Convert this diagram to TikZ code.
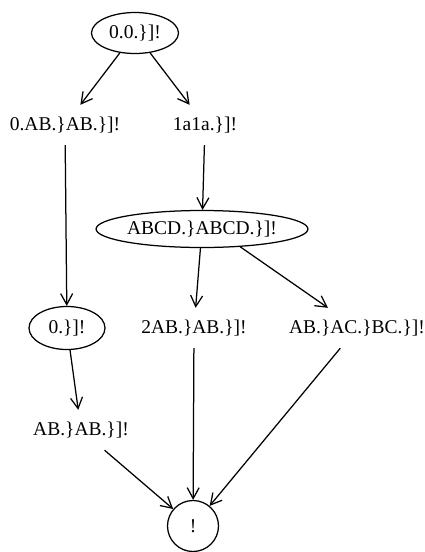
\documentclass[tikz,border=0pt]{standalone}
\usepackage{fontspec}
\setmainfont{Liberation Serif}
\usetikzlibrary{arrows.meta,shapes.geometric}
\begin{document}
\begin{tikzpicture}[x=1pt,y=-1pt,
  every node/.style={font=\fontsize{19.5}{22}\selectfont, inner sep=0pt},
  txt/.style={rectangle, minimum height=40pt, minimum width=0pt, inner xsep=1pt},
  ell/.style={ellipse, draw, line width=1.25pt},
  edge/.style={line width=1.25pt, -{Straight Barb[length=11pt,width=12pt]}}]
\useasboundingbox (0,0) rectangle (425,552);
\node[ell, minimum width=87pt, minimum height=41pt] (top) at (135,33) {0.0.\}]!};
\node[txt] (n1) at (65,125) {0.AB.\}AB.\}]!};
\node[txt] (n2) at (205,125) {1a1a.\}]!};
\node[ell, minimum width=188pt, minimum height=37pt] (abcd) at (202,229) {ABCD.\}ABCD.\}]!};
\node[ell, minimum width=76pt, minimum height=43pt] (e0) at (67,328) {0.\}]!};
\node[txt] (n3) at (194,328) {2AB.\}AB.\}]!};
\node[txt] (n4) at (357,328) {AB.\}AC.\}BC.\}]!};
\node[txt] (n5) at (81,430) {AB.\}AB.\}]!};
\node[circle, draw, line width=1.25pt, minimum size=51pt] (bang) at (193,526) {!};
\draw[edge] (top) -- (n1);
\draw[edge] (top) -- (n2);
\draw[edge] (n1) -- (e0);
\draw[edge] (n2) -- (abcd);
\draw[edge] (abcd) -- (n3);
\draw[edge] (abcd.-25) -- (n4);
\draw[edge] (e0) -- (n5);
\draw[edge] (n3) -- (bang);
\draw[edge] (n4) -- (bang);
\draw[edge] (n5) -- (bang);
\end{tikzpicture}
\end{document}
